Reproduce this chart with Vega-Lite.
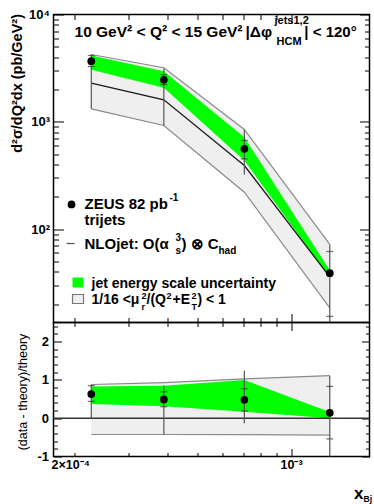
{
  "$schema": "https://vega.github.io/schema/vega-lite/v6.json",
  "background": "white",
  "padding": {"left": 8.5, "top": 7.5, "right": 0, "bottom": 0},
  "spacing": 0,
  "bounds": "flush",
  "config": {
    "view": {"stroke": "black", "strokeWidth": 1.5},
    "axis": {"domain": false, "grid": false, "tickColor": "black", "tickWidth": 1, "labelFont": "Liberation Sans", "labelFontWeight": "bold", "labelColor": "black", "titleFont": "Liberation Sans", "titleColor": "black", "labelOverlap": false, "labelFlush": false}
  },
  "datasets": {
    "main": [
      {"x": 0.000227, "data": 3672, "stat_lo": 3278, "stat_hi": 4150, "v_lo": 1322, "v_hi": 4240, "nlo": 2290, "sc_lo": 1322, "sc_hi": 4240, "jes_lo": 3053, "jes_hi": 4150},
      {"x": 0.000389, "data": 2464, "stat_lo": 2227, "stat_hi": 2743, "v_lo": 924, "v_hi": 3140, "nlo": 1604, "sc_lo": 924, "sc_hi": 3190, "jes_lo": 2075, "jes_hi": 2963},
      {"x": 0.000707, "data": 561, "stat_lo": 452, "stat_hi": 670, "v_lo": 323, "v_hi": 843, "nlo": 392, "sc_lo": 221, "sc_hi": 848, "jes_lo": 436, "jes_hi": 719},
      {"x": 0.001333, "data": 38.9, "stat_lo": 15.4, "stat_hi": 61.9, "v_lo": 13.5, "v_hi": 71.9, "nlo": 36, "sc_lo": 18.5, "sc_hi": 72, "jes_lo": 35, "jes_hi": 41.5}
    ],
    "ratio": [
      {"x": 0.000227, "r": 0.63, "stat_lo": 0.44, "stat_hi": 0.85, "v_lo": 0, "v_hi": 0.88, "sc_lo": -0.425, "sc_hi": 0.88, "jes_lo": 0.37, "jes_hi": 0.83},
      {"x": 0.000389, "r": 0.49, "stat_lo": 0.3, "stat_hi": 0.69, "v_lo": -0.425, "v_hi": 0.855, "sc_lo": -0.425, "sc_hi": 0.93, "jes_lo": 0.31, "jes_hi": 0.85},
      {"x": 0.000707, "r": 0.48, "stat_lo": 0.19, "stat_hi": 0.77, "v_lo": -0.13, "v_hi": 1.24, "sc_lo": -0.43, "sc_hi": 1.03, "jes_lo": 0.17, "jes_hi": 1.0},
      {"x": 0.001333, "r": 0.14, "stat_lo": -0.54, "stat_hi": 0.83, "v_lo": -1, "v_hi": 1.11, "sc_lo": -0.44, "sc_hi": 1.11, "jes_lo": 0.0, "jes_hi": 0.16}
    ]
  },
  "vconcat": [
    {
      "width": 316,
      "height": 308,
      "resolve": {"axis": {"x": "independent", "y": "independent"}},
      "layer": [
        {
          "data": {"name": "main"},
          "mark": {"type": "area", "fill": "#efefef"},
          "encoding": {
            "x": {"field": "x", "type": "quantitative", "scale": {"type": "log", "domain": [0.0001715, 0.00179], "nice": false},
              "axis": {"orient": "bottom", "values": [0.0002, 0.0003, 0.0004, 0.0005, 0.0006, 0.0007, 0.0008, 0.0009, 0.001], "labels": false, "title": null,
                "tickSize": {"condition": {"test": "datum.value == 0.001", "value": -9}, "value": -5}}},
            "y": {"field": "sc_hi", "type": "quantitative", "scale": {"type": "log", "domain": [13.5, 10000], "nice": false},
              "axis": {"orient": "left", "values": [20, 30, 40, 50, 60, 70, 80, 90, 100, 200, 300, 400, 500, 600, 700, 800, 900, 1000, 2000, 3000, 4000, 5000, 6000, 7000, 8000, 9000, 10000],
                "labelExpr": "datum.value == 10000 ? '10⁴' : datum.value == 1000 ? '10³' : datum.value == 100 ? '10²' : ''",
                "labelFontSize": 13, "labelPadding": 14,
                "tickSize": {"condition": {"test": "indexof([100, 1000, 10000], datum.value) >= 0", "value": -10}, "value": -5},
                "title": "d²σ/dQ²dx (pb/GeV²)", "titleFontSize": 14.5, "titleFontWeight": "bold",
                "titleX": -29, "titleY": -1, "titleAngle": 270, "titleAlign": "right", "titleBaseline": "bottom", "titleAnchor": "end"}},
            "y2": {"field": "sc_lo"}
          }
        },
        {
          "data": {"name": "main"},
          "mark": {"type": "line", "color": "#8a8a8a", "strokeWidth": 1.2},
          "encoding": {
            "x": {"field": "x", "type": "quantitative",
              "axis": {"orient": "top", "values": [0.0002, 0.0003, 0.0004, 0.0005, 0.0006, 0.0007, 0.0008, 0.0009, 0.001], "labels": false, "title": null,
                "tickSize": {"condition": {"test": "datum.value == 0.001", "value": -9}, "value": -5}}},
            "y": {"field": "sc_hi", "type": "quantitative",
              "axis": {"orient": "right", "values": [20, 30, 40, 50, 60, 70, 80, 90, 100, 200, 300, 400, 500, 600, 700, 800, 900, 1000, 2000, 3000, 4000, 5000, 6000, 7000, 8000, 9000, 10000], "labels": false, "title": null,
                "tickSize": {"condition": {"test": "indexof([100, 1000, 10000], datum.value) >= 0", "value": -10}, "value": -5}}}
          }
        },
        {
          "data": {"name": "main"},
          "mark": {"type": "line", "color": "#8a8a8a", "strokeWidth": 1.2},
          "encoding": {
            "x": {"field": "x", "type": "quantitative", "axis": null},
            "y": {"field": "sc_lo", "type": "quantitative", "axis": null}
          }
        },
        {
          "data": {"name": "main"},
          "mark": {"type": "area", "fill": "#00ff00"},
          "encoding": {
            "x": {"field": "x", "type": "quantitative", "axis": null},
            "y": {"field": "jes_hi", "type": "quantitative", "axis": null},
            "y2": {"field": "jes_lo"}
          }
        },
        {
          "data": {"name": "main"},
          "mark": {"type": "line", "color": "#1a1a1a", "strokeWidth": 1.3},
          "encoding": {
            "x": {"field": "x", "type": "quantitative", "axis": null},
            "y": {"field": "nlo", "type": "quantitative", "axis": null}
          }
        },
        {
          "data": {"name": "main"},
          "mark": {"type": "rule", "color": "#555555", "strokeWidth": 1.2},
          "encoding": {
            "x": {"field": "x", "type": "quantitative", "axis": null},
            "y": {"field": "v_lo", "type": "quantitative", "axis": null},
            "y2": {"field": "v_hi"}
          }
        },
        {
          "data": {"name": "main"},
          "mark": {"type": "tick", "orient": "horizontal", "size": 7, "thickness": 1.2, "color": "#333333"},
          "encoding": {
            "x": {"field": "x", "type": "quantitative", "axis": null},
            "y": {"field": "stat_hi", "type": "quantitative", "axis": null}
          }
        },
        {
          "data": {"name": "main"},
          "mark": {"type": "tick", "orient": "horizontal", "size": 7, "thickness": 1.2, "color": "#333333"},
          "encoding": {
            "x": {"field": "x", "type": "quantitative", "axis": null},
            "y": {"field": "stat_lo", "type": "quantitative", "axis": null}
          }
        },
        {
          "data": {"name": "main"},
          "mark": {"type": "circle", "size": 60, "color": "black", "opacity": 1},
          "encoding": {
            "x": {"field": "x", "type": "quantitative", "axis": null},
            "y": {"field": "data", "type": "quantitative", "axis": null}
          }
        },
        {
          "data": {"values": [{"x": 0.000196, "y": 169.8}]},
          "mark": {"type": "circle", "size": 60, "color": "black", "opacity": 1},
          "encoding": {
            "x": {"field": "x", "type": "quantitative", "axis": null},
            "y": {"field": "y", "type": "quantitative", "axis": null}
          }
        },
        {
          "data": {"values": [{"x": 0.00018886, "x2": 0.00020045, "y": 73.5}]},
          "mark": {"type": "rule", "color": "#555555", "strokeWidth": 1.2},
          "encoding": {
            "x": {"field": "x", "type": "quantitative", "axis": null},
            "x2": {"field": "x2"},
            "y": {"field": "y", "type": "quantitative", "axis": null}
          }
        },
        {
          "data": {"values": [{"x": 0.00019748, "x2": 0.0002143, "y": 35.44, "y2": 28.6}]},
          "mark": {"type": "rect", "fill": "#00ff00"},
          "encoding": {
            "x": {"field": "x", "type": "quantitative", "axis": null},
            "x2": {"field": "x2"},
            "y": {"field": "y", "type": "quantitative", "axis": null},
            "y2": {"field": "y2"}
          }
        },
        {
          "data": {"values": [{"x": 0.00019748, "x2": 0.0002143, "y": 24.62, "y2": 20.29}]},
          "mark": {"type": "rect", "fill": "#efefef", "stroke": "#777777", "strokeWidth": 1.2},
          "encoding": {
            "x": {"field": "x", "type": "quantitative", "axis": null},
            "x2": {"field": "x2"},
            "y": {"field": "y", "type": "quantitative", "axis": null},
            "y2": {"field": "y2"}
          }
        },
        {
          "data": {"values": [
            {"x": 0.00020045, "y": 6237, "t": "10 GeV² < Q² < 15 GeV²"},
            {"x": 0.0007133, "y": 6237, "t": "|Δφ"}
          ]},
          "mark": {"type": "text", "align": "left", "baseline": "alphabetic", "font": "Liberation Sans", "fontWeight": "bold", "fontSize": 15.5, "color": "black"},
          "encoding": {
            "x": {"field": "x", "type": "quantitative", "axis": null},
            "y": {"field": "y", "type": "quantitative", "axis": null},
            "text": {"field": "t"}
          }
        },
        {
          "data": {"values": [
            {"x": 0.0011037, "y": 6237, "t": "| < 120°"}
          ]},
          "mark": {"type": "text", "align": "left", "baseline": "alphabetic", "font": "Liberation Sans", "fontWeight": "bold", "fontSize": 15, "color": "black"},
          "encoding": {
            "x": {"field": "x", "type": "quantitative", "axis": null},
            "y": {"field": "y", "type": "quantitative", "axis": null},
            "text": {"field": "t"}
          }
        },
        {
          "data": {"values": [
            {"x": 0.0008846, "y": 8070, "t": "jets1,2"},
            {"x": 0.0008976, "y": 5143, "t": "HCM"}
          ]},
          "mark": {"type": "text", "align": "left", "baseline": "alphabetic", "font": "Liberation Sans", "fontWeight": "bold", "fontSize": 11, "color": "black"},
          "encoding": {
            "x": {"field": "x", "type": "quantitative", "axis": null},
            "y": {"field": "y", "type": "quantitative", "axis": null},
            "text": {"field": "t"}
          }
        },
        {
          "data": {"values": [
            {"x": 0.0002159, "y": 152.5, "t": "ZEUS 82 pb"},
            {"x": 0.0002159, "y": 108.2, "t": "trijets"},
            {"x": 0.0002159, "y": 64.65, "t": "NLOjet: O(α"},
            {"x": 0.0004435, "y": 64.65, "t": ") ⊗ C"}
          ]},
          "mark": {"type": "text", "align": "left", "baseline": "alphabetic", "font": "Liberation Sans", "fontWeight": "bold", "fontSize": 15, "color": "black"},
          "encoding": {
            "x": {"field": "x", "type": "quantitative", "axis": null},
            "y": {"field": "y", "type": "quantitative", "axis": null},
            "text": {"field": "t"}
          }
        },
        {
          "data": {"values": [
            {"x": 0.0004058, "y": 184.9, "t": "-1"},
            {"x": 0.0004243, "y": 78.4, "t": "3"},
            {"x": 0.0004243, "y": 59.3, "t": "s"},
            {"x": 0.0005836, "y": 59.3, "t": "had"}
          ]},
          "mark": {"type": "text", "align": "left", "baseline": "alphabetic", "font": "Liberation Sans", "fontWeight": "bold", "fontSize": 10, "color": "black"},
          "encoding": {
            "x": {"field": "x", "type": "quantitative", "axis": null},
            "y": {"field": "y", "type": "quantitative", "axis": null},
            "text": {"field": "t"}
          }
        },
        {
          "data": {"values": [
            {"x": 0.0002274, "y": 28.6, "t": "jet energy scale uncertainty"},
            {"x": 0.0002274, "y": 20.29, "t": "1/16 <μ"},
            {"x": 0.000342, "y": 20.29, "t": "/(Q"},
            {"x": 0.0004149, "y": 20.29, "t": "+E"},
            {"x": 0.0004994, "y": 20.29, "t": ") < 1"}
          ]},
          "mark": {"type": "text", "align": "left", "baseline": "alphabetic", "font": "Liberation Sans", "fontWeight": "bold", "fontSize": 14, "color": "black"},
          "encoding": {
            "x": {"field": "x", "type": "quantitative", "axis": null},
            "y": {"field": "y", "type": "quantitative", "axis": null},
            "text": {"field": "t"}
          }
        },
        {
          "data": {"values": [
            {"x": 0.0003296, "y": 22.59, "t": "2"},
            {"x": 0.0003968, "y": 22.59, "t": "2"},
            {"x": 0.0004778, "y": 22.59, "t": "2"}
          ]},
          "mark": {"type": "text", "align": "left", "baseline": "alphabetic", "font": "Liberation Sans", "fontWeight": "bold", "fontSize": 9, "color": "black"},
          "encoding": {
            "x": {"field": "x", "type": "quantitative", "axis": null},
            "y": {"field": "y", "type": "quantitative", "axis": null},
            "text": {"field": "t"}
          }
        },
        {
          "data": {"values": [
            {"x": 0.0003296, "y": 17.65, "t": "r"},
            {"x": 0.0004778, "y": 17.65, "t": "T"}
          ]},
          "mark": {"type": "text", "align": "left", "baseline": "alphabetic", "font": "Liberation Sans", "fontWeight": "bold", "fontSize": 9, "color": "black"},
          "encoding": {
            "x": {"field": "x", "type": "quantitative", "axis": null},
            "y": {"field": "y", "type": "quantitative", "axis": null},
            "text": {"field": "t"}
          }
        }
      ]
    },
    {
      "width": 316,
      "height": 134,
      "resolve": {"axis": {"x": "independent", "y": "independent"}},
      "layer": [
        {
          "data": {"name": "ratio"},
          "mark": {"type": "area", "fill": "#efefef"},
          "encoding": {
            "x": {"field": "x", "type": "quantitative", "scale": {"type": "log", "domain": [0.0001715, 0.00179], "nice": false},
              "axis": {"orient": "bottom", "values": [0.0002, 0.0003, 0.0004, 0.0005, 0.0006, 0.0007, 0.0008, 0.0009, 0.001],
                "labelExpr": "datum.value == 0.0002 ? '2×10⁻⁴' : datum.value == 0.001 ? '10⁻³' : ''",
                "labelFontSize": 12.5,
                "labelPadding": {"condition": {"test": "datum.value == 0.001", "value": 10}, "value": 6},
                "labelOffset": {"condition": {"test": "datum.value == 0.0002", "value": -4}, "value": 0},
                "title": null,
                "tickSize": {"condition": {"test": "datum.value == 0.001", "value": -8}, "value": -4}}},
            "y": {"field": "sc_hi", "type": "quantitative", "scale": {"domain": [-1, 2.5], "nice": false, "zero": false},
              "axis": {"orient": "left", "values": [-1, -0.8, -0.6, -0.4, -0.2, 0, 0.2, 0.4, 0.6, 0.8, 1, 1.2, 1.4, 1.6, 1.8, 2, 2.2, 2.4],
                "labelExpr": "datum.value == -1 ? '-1' : datum.value == 0 ? '0' : datum.value == 1 ? '1' : datum.value == 2 ? '2' : ''",
                "labelFontSize": 13, "labelPadding": 13,
                "tickSize": {"condition": {"test": "indexof([-1, 0, 1, 2], datum.value) >= 0", "value": -8}, "value": -4},
                "title": "(data - theory)/theory", "titleFontSize": 12.5, "titleFontWeight": "normal",
                "titleX": -24, "titleY": 69, "titleAngle": 270, "titleAlign": "center", "titleBaseline": "bottom"}},
            "y2": {"field": "sc_lo"}
          }
        },
        {
          "data": {"name": "ratio"},
          "mark": {"type": "line", "color": "#8a8a8a", "strokeWidth": 1.2},
          "encoding": {
            "x": {"field": "x", "type": "quantitative",
              "axis": {"orient": "top", "values": [0.0002, 0.0003, 0.0004, 0.0005, 0.0006, 0.0007, 0.0008, 0.0009, 0.001], "labels": false, "title": null,
                "tickSize": {"condition": {"test": "datum.value == 0.001", "value": -8}, "value": -4}}},
            "y": {"field": "sc_hi", "type": "quantitative",
              "axis": {"orient": "right", "values": [-1, -0.8, -0.6, -0.4, -0.2, 0, 0.2, 0.4, 0.6, 0.8, 1, 1.2, 1.4, 1.6, 1.8, 2, 2.2, 2.4], "labels": false, "title": null,
                "tickSize": {"condition": {"test": "indexof([-1, 0, 1, 2], datum.value) >= 0", "value": -8}, "value": -4}}}
          }
        },
        {
          "data": {"name": "ratio"},
          "mark": {"type": "line", "color": "#8a8a8a", "strokeWidth": 1.2},
          "encoding": {
            "x": {"field": "x", "type": "quantitative", "axis": null},
            "y": {"field": "sc_lo", "type": "quantitative", "axis": null}
          }
        },
        {
          "data": {"name": "ratio"},
          "mark": {"type": "area", "fill": "#00ff00"},
          "encoding": {
            "x": {"field": "x", "type": "quantitative", "axis": null},
            "y": {"field": "jes_hi", "type": "quantitative", "axis": null},
            "y2": {"field": "jes_lo"}
          }
        },
        {
          "data": {"values": [{"z": 0}]},
          "mark": {"type": "rule", "color": "#333333", "strokeWidth": 1.5},
          "encoding": {
            "y": {"field": "z", "type": "quantitative", "axis": null}
          }
        },
        {
          "data": {"name": "ratio"},
          "mark": {"type": "rule", "color": "#555555", "strokeWidth": 1.2},
          "encoding": {
            "x": {"field": "x", "type": "quantitative", "axis": null},
            "y": {"field": "v_lo", "type": "quantitative", "axis": null},
            "y2": {"field": "v_hi"}
          }
        },
        {
          "data": {"name": "ratio"},
          "mark": {"type": "tick", "orient": "horizontal", "size": 7, "thickness": 1.2, "color": "#333333"},
          "encoding": {
            "x": {"field": "x", "type": "quantitative", "axis": null},
            "y": {"field": "stat_hi", "type": "quantitative", "axis": null}
          }
        },
        {
          "data": {"name": "ratio"},
          "mark": {"type": "tick", "orient": "horizontal", "size": 7, "thickness": 1.2, "color": "#333333"},
          "encoding": {
            "x": {"field": "x", "type": "quantitative", "axis": null},
            "y": {"field": "stat_lo", "type": "quantitative", "axis": null}
          }
        },
        {
          "data": {"name": "ratio"},
          "mark": {"type": "circle", "size": 60, "color": "black", "opacity": 1},
          "encoding": {
            "x": {"field": "x", "type": "quantitative", "axis": null},
            "y": {"field": "r", "type": "quantitative", "axis": null}
          }
        },
        {
          "data": {"values": [{"x": 0.0017125, "y": -2.12, "t": "x"}]},
          "mark": {"type": "text", "align": "right", "baseline": "alphabetic", "font": "Liberation Sans", "fontWeight": "bold", "fontSize": 17, "color": "black"},
          "encoding": {
            "x": {"field": "x", "type": "quantitative", "axis": null},
            "y": {"field": "y", "type": "quantitative", "axis": null},
            "text": {"field": "t"}
          }
        },
        {
          "data": {"values": [{"x": 0.0017125, "y": -2.2, "t": "Bj"}]},
          "mark": {"type": "text", "align": "left", "baseline": "alphabetic", "font": "Liberation Sans", "fontWeight": "bold", "fontSize": 8.5, "color": "black"},
          "encoding": {
            "x": {"field": "x", "type": "quantitative", "axis": null},
            "y": {"field": "y", "type": "quantitative", "axis": null},
            "text": {"field": "t"}
          }
        }
      ]
    }
  ]
}
